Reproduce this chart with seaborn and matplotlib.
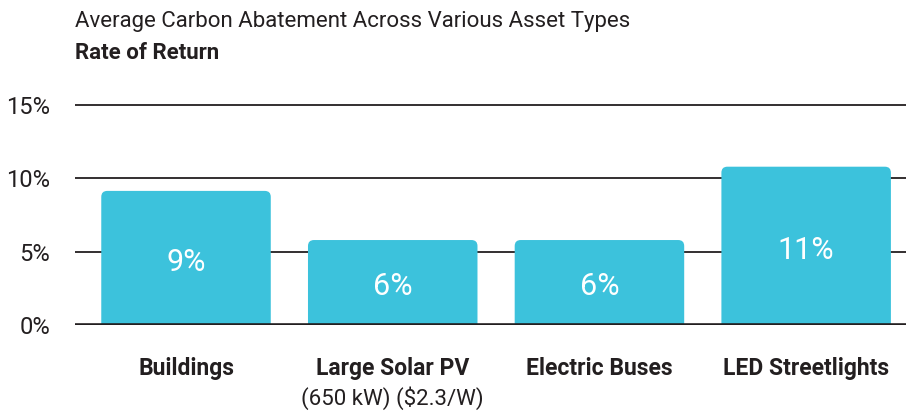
import matplotlib
matplotlib.use("Agg")
import matplotlib.pyplot as plt
import matplotlib.transforms as mtransforms
from matplotlib.patches import FancyBboxPatch
import seaborn as sns
import pandas as pd

# データ
categories = ["Buildings", "Large Solar PV", "Electric Buses", "LED Streetlights"]
subnotes = ["", "(650 kW) ($2.3/W)", "", ""]
rate_of_return = [9.15, 5.8, 5.8, 10.8]
bar_labels = ["9%", "6%", "6%", "11%"]
yticks = [0, 5, 10, 15]
ytick_labels = ["0%", "5%", "10%", "15%"]

title = "Average Carbon Abatement Across Various Asset Types"
subtitle = "Rate of Return"

bar_color = "#3cc2dc"
ink = "#231f20"

sns.set_style("white")
plt.rcParams["font.family"] = ["Roboto", "DejaVu Sans"]

fig = plt.figure(figsize=(9.06, 4.11), dpi=100)
ax = fig.add_axes([0.0828, 0.209, 0.9172, 0.546])

df = pd.DataFrame({"cat": categories, "val": rate_of_return})
sns.barplot(data=df, x="cat", y="val", color=bar_color, saturation=1,
            width=0.82, ax=ax, zorder=3)

ax.set_xlim(-0.537, 3.483)
ax.set_ylim(0, 15.3)

# 角丸の棒に置き換え
fig.canvas.draw()
px_x = ax.transData.transform((1, 0))[0] - ax.transData.transform((0, 0))[0]
px_y = ax.transData.transform((0, 1))[1] - ax.transData.transform((0, 0))[1]
aspect = px_x / px_y
r = 6 / px_x
for p in list(ax.patches):
    x0, w, h = p.get_x(), p.get_width(), p.get_height()
    p.remove()
    fb = FancyBboxPatch((x0, -1), w, h + 1,
                        boxstyle=f"round,pad=0,rounding_size={r}",
                        mutation_aspect=aspect,
                        facecolor=bar_color, edgecolor="none", zorder=3)
    ax.add_patch(fb)

# グリッド線
for yv in yticks[1:]:
    ax.axhline(yv, color=ink, lw=1.3, zorder=1)
ax.axhline(0, color=ink, lw=2.6, zorder=4)

for s in ax.spines.values():
    s.set_visible(False)

ax.set_yticks(yticks)
ax.set_yticklabels(ytick_labels, fontsize=17, color=ink)
ax.tick_params(axis="y", length=0, pad=18)
ax.set_xticks(range(len(categories)))
ax.set_xticklabels(categories, fontsize=16.5, fontweight="bold", color=ink)
ax.tick_params(axis="x", length=0, pad=23)
ax.set_xlabel("")
ax.set_ylabel("")

trans = mtransforms.blended_transform_factory(ax.transData, ax.transAxes)
for i, note in enumerate(subnotes):
    if note:
        ax.text(i, -0.326, note, transform=trans, ha="center", va="center",
                fontsize=16, color=ink)

for i, (v, lab) in enumerate(zip(rate_of_return, bar_labels)):
    ax.text(i, v / 2 - 0.3, lab, ha="center", va="center", fontsize=22,
            color="white", zorder=5)

fig.text(75 / 906, 1 - 22 / 411, title, ha="left", va="center",
         fontsize=16, color=ink)
fig.text(75 / 906, 1 - 53 / 411, subtitle, ha="left", va="center",
         fontsize=16, color=ink, fontweight="bold")

fig.savefig("out.png", dpi=100)
